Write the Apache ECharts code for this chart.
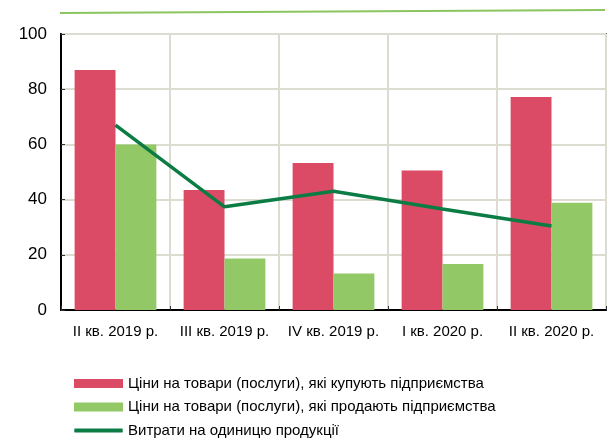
<!DOCTYPE html>
<html><head><meta charset="utf-8">
<script src="https://cdn.jsdelivr.net/npm/echarts@6/dist/echarts.min.js"></script>
<style>html,body{margin:0;padding:0;background:#fff}#c{width:616px;height:441px}</style>
</head><body><div id="c"></div>
<script>
var categories = ['II кв. 2019 р.', 'III кв. 2019 р.', 'IV кв. 2019 р.', 'I кв. 2020 р.', 'II кв. 2020 р.'];
var buyPrices = [87, 43.5, 53.3, 50.5, 77.2];
var sellPrices = [60, 18.7, 13.2, 16.7, 38.9];
var unitCosts = [67, 37.4, 43, 36.6, 30.4];
var seriesNames = ['Ціни на товари (послуги), які купують підприємства', 'Ціни на товари (послуги), які продають підприємства', 'Витрати на одиницю продукції'];
var yTicks = [0, 20, 40, 60, 80, 100];

var chart = echarts.init(document.getElementById('c'));
var font = 'Liberation Sans, Arial, sans-serif';
chart.setOption({
  animation: false,
  textStyle: {fontFamily: font},
  grid: {left: 61, right: 10, top: 34, bottom: 131, show: true, borderColor: '#6e6e6e', borderWidth: 2, backgroundColor: 'transparent'},
  graphic: [{type: 'line', shape: {x1: 60, y1: 13, x2: 605, y2: 10}, style: {stroke: '#8cc560', lineWidth: 2}}],
  legend: {
    orient: 'vertical', left: 74, top: 376, padding: 0, itemWidth: 49, itemHeight: 9, itemGap: 8.5,
    textStyle: {fontSize: 15, color: '#000', fontFamily: font},
    data: [
      {name: seriesNames[0], icon: 'rect'},
      {name: seriesNames[1], icon: 'rect'},
      {name: seriesNames[2], icon: 'path://M0,0 M0.5,2.5 L48.5,2.5 Q49,4.5 48.5,6.5 L0.5,6.5 Q0,4.5 0.5,2.5 Z M49,9', itemStyle: {color: '#0a7c44'}}
    ]
  },
  xAxis: {
    type: 'category', data: categories,
    axisLine: {lineStyle: {color: '#000', width: 2}},
    axisTick: {show: true, inside: true, length: 4, lineStyle: {color: '#333'}},
    axisLabel: {interval: 0, fontSize: 15, color: '#000', margin: 14},
    splitLine: {show: true, lineStyle: {color: '#dddcd0', width: 2}}
  },
  yAxis: {
    type: 'value', min: yTicks[0], max: yTicks[yTicks.length-1], interval: 20,
    axisLine: {show: true, lineStyle: {color: '#000', width: 2}},
    axisTick: {show: true, inside: true, length: 4, lineStyle: {color: '#333'}},
    axisLabel: {fontSize: 17, color: '#000', margin: 14},
    splitLine: {show: true, lineStyle: {color: '#dddcd0', width: 2}}
  },
  series: [
    {name: seriesNames[0], type: 'bar', data: buyPrices, barGap: '0%', barCategoryGap: '25%',
     itemStyle: {color: '#db4b66'}},
    {name: seriesNames[1], type: 'bar', data: sellPrices,
     itemStyle: {color: '#92c966'}},
    {name: seriesNames[2], type: 'line', data: unitCosts, symbol: 'none', showSymbol: false,
     itemStyle: {color: '#0a7c44'}, lineStyle: {color: '#0a7c44', width: 3.5}}
  ]
});
</script></body></html>
